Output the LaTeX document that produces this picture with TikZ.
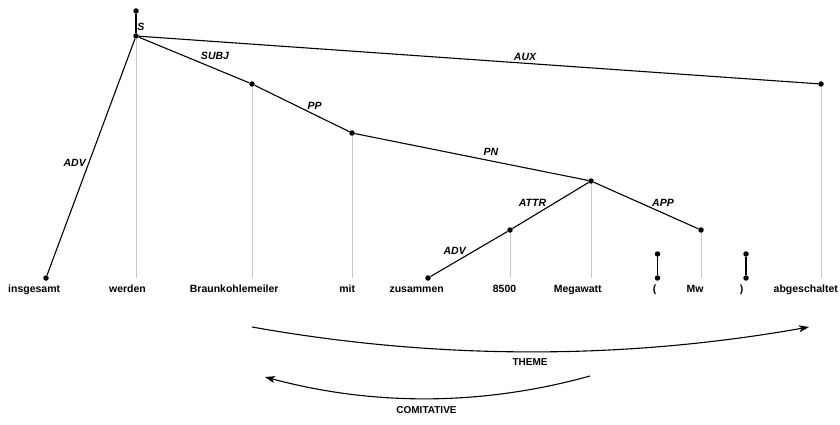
\documentclass[tikz,border=0pt]{standalone}
\usepackage{fontspec}
\setmainfont{Liberation Sans}
\usetikzlibrary{arrows.meta}

\begin{document}
\begin{tikzpicture}[x=1pt,y=-1pt,
  dot/.style={circle,fill=black,inner sep=0pt,minimum size=5.5pt},
  dep/.style={draw=black,line width=1.1pt},
  proj/.style={draw=black!22,line width=0.9pt},
  word/.style={font=\fontsize{10.5}{12}\selectfont\bfseries,anchor=base,inner sep=0pt},
  rel/.style={font=\fontsize{10.5}{12}\selectfont\bfseries\itshape,inner sep=0pt},
  role/.style={font=\fontsize{10}{12}\selectfont\bfseries,inner sep=0pt},
  rolearc/.style={line width=1.1pt,-{Stealth[length=10pt,width=7pt,inset=2.5pt]}}
]
\useasboundingbox (0,0) rectangle (840,425);

% words of the sentence
\node[word] (wIns)  at (34.2,292.5)  {insgesamt};
\node[word] (wWer)  at (127.5,292.5) {werden};
\node[word] (wBra)  at (234.2,292.5) {Braunkohlemeiler};
\node[word] (wMit)  at (347.2,292.5) {mit};
\node[word] (wZus)  at (416.7,292.5) {zusammen};
\node[word] (w8500) at (504.5,292.5) {8500};
\node[word] (wMeg)  at (577.8,292.5) {Megawatt};
\node[word] (wLp)   at (654.7,292.5) {(};
\node[word] (wMw)   at (695,292.5)   {Mw};
\node[word] (wRp)   at (741.7,292.5) {)};
\node[word] (wAbg)  at (805.8,292.5) {abgeschaltet};

% tree nodes
\node[dot] (nTop) at (136,11)  {};
\node[dot] (nS)   at (136,36)  {};
\node[dot] (nIns) at (46,278)  {};
\node[dot] (nBra) at (252,84)  {};
\node[dot] (nMit) at (352,133) {};
\node[dot] (nAbg) at (821,84)  {};
\node[dot] (nMeg) at (591,181) {};
\node[dot] (n8500) at (510,230) {};
\node[dot] (nMw)  at (701,230) {};
\node[dot] (nZus) at (428,278) {};
\node[dot] (nLpT) at (657.5,254) {};
\node[dot] (nLpB) at (657.5,278) {};
\node[dot] (nRpT) at (746,254) {};
\node[dot] (nRpB) at (746,278) {};

% projection lines down to the words
\coordinate (bWer)  at (136,278);
\coordinate (bBra)  at (252,278);
\coordinate (bMit)  at (352,278);
\coordinate (b8500) at (510,278);
\coordinate (bMeg)  at (591,278);
\coordinate (bMw)   at (701,278);
\coordinate (bAbg)  at (821,278);
\draw[proj] (nS) -- (bWer);
\draw[proj] (nBra) -- (bBra);
\draw[proj] (nMit) -- (bMit);
\draw[proj] (n8500) -- (b8500);
\draw[proj] (nMeg) -- (bMeg);
\draw[proj] (nMw) -- (bMw);
\draw[proj] (nAbg) -- (bAbg);

% dependency edges
\draw[dep] (nTop) -- (nS);
\draw[dep] (nS) -- (nIns);
\draw[dep] (nS) -- (nBra);
\draw[dep] (nS) -- (nAbg);
\draw[dep] (nBra) -- (nMit);
\draw[dep] (nMit) -- (nMeg);
\draw[dep] (nMeg) -- (n8500);
\draw[dep] (n8500) -- (nZus);
\draw[dep] (nMeg) -- (nMw);
\draw[dep] (nLpT) -- (nLpB);
\draw[dep] (nRpT) -- (nRpB);

% edge labels
\node[rel] (lS)    at (141,26.5)  {S};
\node[rel] (lAdv)  at (74.7,163)  {ADV};
\node[rel] (lSubj) at (215,56.3)  {SUBJ};
\node[rel] (lPp)   at (314.7,105.5) {PP};
\node[rel] (lAux)  at (525,56.7)  {AUX};
\node[rel] (lPn)   at (491,152)   {PN};
\node[rel] (lAttr) at (532.5,202.5) {ATTR};
\node[rel] (lApp)  at (663,202.5) {APP};
\node[rel] (lAdvZ) at (454.7,250.5) {ADV};

% semantic role arcs
\coordinate (thS) at (252,327);
\coordinate (thE) at (809,327);
\draw[rolearc] (thS) .. controls (437,360) and (623,360) .. (thE);
\node[role] (lTheme) at (530,362) {THEME};

\coordinate (coS) at (590,376);
\coordinate (coE) at (265,377);
\draw[rolearc] (coS) .. controls (482,406) and (373,406) .. (coE);
\node[role] (lCom) at (426.5,410.5) {COMITATIVE};
\end{tikzpicture}
\end{document}
